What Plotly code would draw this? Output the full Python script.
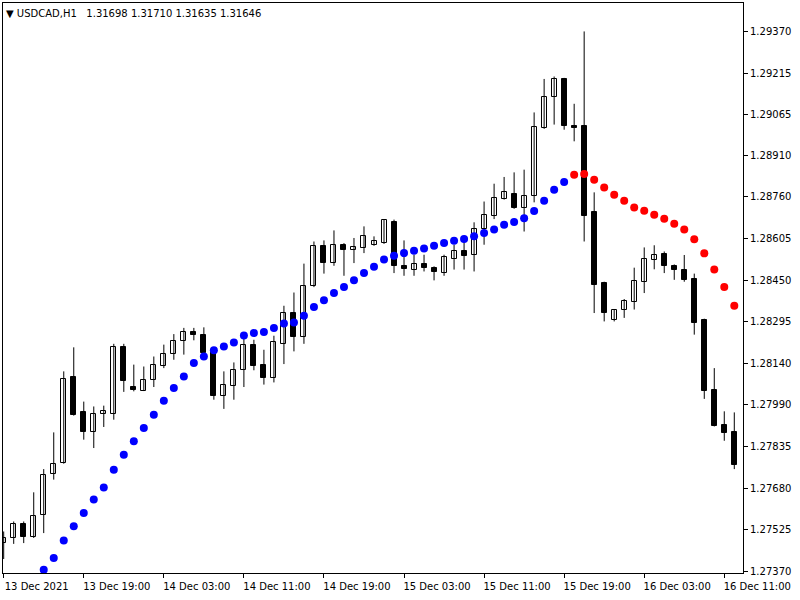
import plotly.graph_objects as go

# ---- data (USDCAD H1) ----
bar_index = list(range(74))

opens = [1.27476, 1.27495, 1.27548, 1.27499, 1.27579, 1.27732, 1.27773, 1.28090, 1.27960, 1.27887,
         1.27954, 1.27955, 1.28204, 1.28053, 1.28041, 1.28079, 1.28133, 1.28176, 1.28223, 1.28258,
         1.28248, 1.28192, 1.28019, 1.28059, 1.28116, 1.28211, 1.28137, 1.28087, 1.28214, 1.28328,
         1.28241, 1.28430, 1.28575, 1.28513, 1.28581, 1.28560, 1.28569, 1.28581, 1.28587, 1.28667,
         1.28503, 1.28486, 1.28511, 1.28495, 1.28476, 1.28528, 1.28556, 1.28544, 1.28639, 1.28686,
         1.28751, 1.28770, 1.28717, 1.28763, 1.29013, 1.29128, 1.29196, 1.29019, 1.29019, 1.28701,
         1.28441, 1.28301, 1.28338, 1.28368, 1.28443, 1.28523, 1.28548, 1.28504, 1.28489, 1.28455,
         1.28301, 1.28044, 1.27914, 1.27886]
highs = [1.27519, 1.27556, 1.27556, 1.27664, 1.27750, 1.27886, 1.28112, 1.28201, 1.28000, 1.27982,
         1.27985, 1.28214, 1.28214, 1.28137, 1.28130, 1.28167, 1.28211, 1.28250, 1.28273, 1.28273,
         1.28275, 1.28195, 1.28112, 1.28145, 1.28236, 1.28229, 1.28192, 1.28244, 1.28355, 1.28404,
         1.28511, 1.28593, 1.28597, 1.28634, 1.28587, 1.28606, 1.28649, 1.28612, 1.28674, 1.28674,
         1.28597, 1.28544, 1.28544, 1.28501, 1.28544, 1.28581, 1.28614, 1.28664, 1.28741, 1.28807,
         1.28832, 1.28849, 1.28859, 1.29071, 1.29195, 1.29204, 1.29199, 1.29103, 1.29371, 1.28775,
         1.28444, 1.28343, 1.28380, 1.28496, 1.28571, 1.28579, 1.28556, 1.28508, 1.28543, 1.28474,
         1.28307, 1.28124, 1.27964, 1.27960]
lows = [1.27417, 1.27473, 1.27476, 1.27495, 1.27513, 1.27711, 1.27770, 1.27948, 1.27859, 1.27828,
        1.27906, 1.27933, 1.28036, 1.28038, 1.28039, 1.28054, 1.28124, 1.28155, 1.28174, 1.28227,
        1.28177, 1.28007, 1.27973, 1.28007, 1.28054, 1.28116, 1.28063, 1.28071, 1.28139, 1.28186,
        1.28214, 1.28424, 1.28474, 1.28503, 1.28466, 1.28513, 1.28550, 1.28577, 1.28584, 1.28476,
        1.28466, 1.28466, 1.28482, 1.28449, 1.28466, 1.28489, 1.28489, 1.28482, 1.28581, 1.28676,
        1.28748, 1.28714, 1.28630, 1.28738, 1.29010, 1.29026, 1.29007, 1.28964, 1.28593, 1.28328,
        1.28297, 1.28297, 1.28310, 1.28341, 1.28402, 1.28490, 1.28476, 1.28451, 1.28444, 1.28248,
        1.28010, 1.27908, 1.27855, 1.27750]
closes = [1.27495, 1.27548, 1.27499, 1.27575, 1.27727, 1.27770, 1.28085, 1.27951, 1.27887, 1.27955,
          1.27964, 1.28204, 1.28075, 1.28044, 1.28081, 1.28137, 1.28177, 1.28223, 1.28256, 1.28245,
          1.28180, 1.28019, 1.28063, 1.28118, 1.28208, 1.28133, 1.28087, 1.28219, 1.28328, 1.28241,
          1.28430, 1.28575, 1.28513, 1.28581, 1.28560, 1.28571, 1.28612, 1.28593, 1.28671, 1.28501,
          1.28491, 1.28511, 1.28495, 1.28479, 1.28536, 1.28556, 1.28541, 1.28639, 1.28692, 1.28754,
          1.28775, 1.28717, 1.28760, 1.29016, 1.29130, 1.29196, 1.29019, 1.29013, 1.28689, 1.28433,
          1.28328, 1.28339, 1.28371, 1.28445, 1.28529, 1.28544, 1.28503, 1.28486, 1.28451, 1.28291,
          1.28041, 1.27911, 1.27884, 1.27766]

# trend dots: blue (below price, up-trend) and red (above price, down-trend)
dots_up = [None, None, None, None, 1.27377, 1.27421, 1.27486, 1.27538, 1.27587, 1.27637,
           1.27682, 1.27748, 1.27803, 1.27853, 1.27902, 1.27951, 1.28003, 1.28050, 1.28093, 1.28143,
           1.28167, 1.28190, 1.28204, 1.28219, 1.28245, 1.28254, 1.28258, 1.28273, 1.28289, 1.28293,
           1.28318, 1.28350, 1.28375, 1.28402, 1.28424, 1.28449, 1.28476, 1.28499, 1.28526, 1.28540,
           1.28550, 1.28559, 1.28567, 1.28577, 1.28587, 1.28596, 1.28602, 1.28612, 1.28624, 1.28637,
           1.28655, 1.28665, 1.28679, 1.28706, 1.28744, 1.28785, 1.28813, None, None, None,
           None, None, None, None, None, None, None, None, None, None,
           None, None, None, None]
dots_down = [None] * 57 + [1.28840, 1.28843, 1.28822, 1.28793, 1.28766, 1.28744, 1.28719, 1.28707,
                           1.28692, 1.28677, 1.28659, 1.28637, 1.28601, 1.28549, 1.28489, 1.28424,
                           1.28355]

x_tick_index = [0, 8, 16, 24, 32, 40, 48, 56, 64, 72]
x_tick_labels = ["13 Dec 2021", "13 Dec 19:00", "14 Dec 03:00", "14 Dec 11:00", "14 Dec 19:00",
                 "15 Dec 03:00", "15 Dec 11:00", "15 Dec 19:00", "16 Dec 03:00", "16 Dec 11:00"]
y_tick_labels = ["1.27370", "1.27525", "1.27680", "1.27835", "1.27990", "1.28140", "1.28295",
                 "1.28450", "1.28605", "1.28760", "1.28910", "1.29065", "1.29215", "1.29370"]
header_text = "▼ USDCAD,H1\u00a0\u00a0 1.31698 1.31710 1.31635 1.31646"

# ---- figure ----
wick_x, wick_y = [], []
for i, lo, hi in zip(bar_index, lows, highs):
    wick_x += [i, i, None]
    wick_y += [lo, hi, None]

body_len = [c - o for o, c in zip(opens, closes)]
body_fill = ["white" if c >= o else "black" for o, c in zip(opens, closes)]

fig = go.Figure()
fig.add_trace(go.Scatter(x=wick_x, y=wick_y, mode="lines",
                         line=dict(color="black", width=1), hoverinfo="skip", showlegend=False))
fig.add_trace(go.Bar(x=bar_index, y=body_len, base=opens, width=0.5,
                     marker=dict(color=body_fill, line=dict(color="black", width=1)),
                     showlegend=False))
fig.add_trace(go.Scatter(x=bar_index, y=dots_up, mode="markers",
                         marker=dict(color="#0000ff", size=8), showlegend=False))
fig.add_trace(go.Scatter(x=bar_index, y=dots_down, mode="markers",
                         marker=dict(color="#ff0000", size=8), showlegend=False))

axis_font = dict(family="DejaVu Sans", size=10, color="black")
fig.update_layout(
    width=800, height=600,
    margin=dict(l=3, r=57, t=3, b=27),
    paper_bgcolor="white", plot_bgcolor="white",
    barmode="overlay", bargap=0,
    xaxis=dict(range=[-0.07, 73.87], showgrid=False, zeroline=False,
               showline=True, linecolor="black", linewidth=1, mirror=True,
               ticks="outside", ticklen=4, tickcolor="black", tickwidth=1,
               tickvals=x_tick_index, ticktext=x_tick_labels, tickfont=axis_font,
               ticklabelshift=33, ticklabeloverflow="allow"),
    yaxis=dict(range=[1.273652, 1.294763], side="right", showgrid=False, zeroline=False,
               showline=True, linecolor="black", linewidth=1, mirror=True,
               ticks="outside", ticklen=4, tickcolor="black", tickwidth=1,
               tickvals=[float(v) for v in y_tick_labels], ticktext=y_tick_labels,
               tickfont=axis_font, ticklabeloverflow="allow"),
    annotations=[dict(text=header_text, xref="paper", yref="paper", x=0, y=1,
                      xanchor="left", yanchor="top", xshift=1, yshift=-3, showarrow=False,
                      font=dict(family="DejaVu Sans", size=10, color="black"))],
)

fig.write_html("out.html", config={"displayModeBar": False},
               post_script="document.body.style.margin='0';")
